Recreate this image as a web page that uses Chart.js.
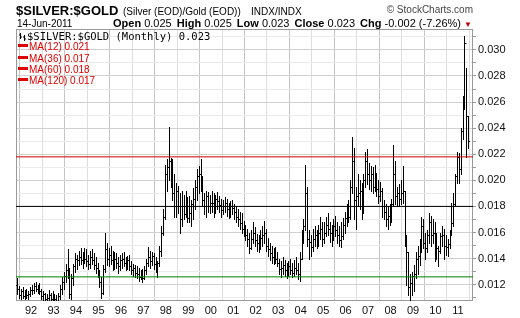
<!DOCTYPE html>
<html>
<head>
<meta charset="utf-8">
<script src="https://cdn.jsdelivr.net/npm/chart.js@4.4.1/dist/chart.umd.min.js"></script>
<style>
html, body { margin: 0; padding: 0; background: #fff; }
#wrap { position: relative; width: 520px; height: 318px; overflow: hidden; font-family: "Liberation Sans", Arial, sans-serif; color: #000; }
#wrap canvas { position: absolute; left: 0; top: 0; }
.t { position: absolute; white-space: nowrap; line-height: 1; }
.lbl { font-weight: bold; font-size: 11px; margin-left: 2px; }
.ma { font-size: 10px; color: #e00000; }
.ma i { display: inline-block; width: 10px; height: 3px; background: #e00000; vertical-align: 3px; margin-right: 1px; }
</style>
</head>
<body>
<div id="wrap">
  <canvas id="chart" width="520" height="318"></canvas>

  <div class="t" style="left:16px;top:4px;font-weight:bold;font-size:13px;">$SILVER:$GOLD</div>
  <div class="t" style="left:123px;top:7px;font-size:10px;">(Silver (EOD)/Gold (EOD))</div>
  <div class="t" style="left:251px;top:7px;font-size:10px;">INDX/INDX</div>
  <div class="t" style="right:47px;top:5px;font-size:10px;color:#444;">&copy; StockCharts.com</div>

  <div class="t" style="left:17px;top:19px;font-size:10px;">14-Jun-2011</div>
  <div class="t" style="left:111px;top:18px;font-size:11px;">
    <span class="lbl">Open</span> 0.025
    <span class="lbl">High</span> 0.025
    <span class="lbl">Low</span> 0.023
    <span class="lbl">Close</span> 0.023
    <span class="lbl">Chg</span> -0.002 (-7.26%) <span style="color:#c00000;font-size:8px;">&#9660;</span>
  </div>

  <div class="t" style="left:19px;top:31px;font-family:'DejaVu Sans Mono',monospace;font-size:10.5px;"><svg width="7" height="8" style="vertical-align:-1px;margin-right:1px"><path d="M1.5 0V6M0 2H1.5M1.5 4H3M5.5 2V8M4 4H5.5M5.5 6H7" stroke="#000" stroke-width="1" fill="none"/></svg>$SILVER:$GOLD (Monthly) 0.023</div>
  <div class="t ma" style="left:18px;top:42px;"><i></i>MA(12) 0.021</div>
  <div class="t ma" style="left:18px;top:54px;"><i></i>MA(36) 0.017</div>
  <div class="t ma" style="left:18px;top:65px;"><i></i>MA(60) 0.018</div>
  <div class="t ma" style="left:18px;top:76px;"><i></i>MA(120) 0.017</div>
</div>

<script>
// monthly bars, first bar = May 1991, last = Jun 2011
var startYear = 1991;
var startMonth = 5;

var high = [
  0.0125, 0.0119, 0.0117, 0.0118, 0.0116, 0.0117, 0.0115, 0.0118,                                 // 1991
  0.0120, 0.0121, 0.0122, 0.0120, 0.0121, 0.0117, 0.0115, 0.0114, 0.0113, 0.0116, 0.0114, 0.0115, // 1992
  0.0113, 0.0112, 0.0114, 0.0120, 0.0126, 0.0130, 0.0136, 0.0147, 0.0133, 0.0128, 0.0136, 0.0144, // 1993
  0.0143, 0.0146, 0.0148, 0.0145, 0.0148, 0.0147, 0.0143, 0.0146, 0.0147, 0.0144, 0.0141, 0.0137, // 1994
  0.0131, 0.0126, 0.0135, 0.0160, 0.0152, 0.0148, 0.0150, 0.0146, 0.0145, 0.0144, 0.0141, 0.0143, // 1995
  0.0144, 0.0145, 0.0141, 0.0142, 0.0143, 0.0138, 0.0136, 0.0135, 0.0134, 0.0133, 0.0131, 0.0132, // 1996
  0.0134, 0.0140, 0.0149, 0.0146, 0.0145, 0.0144, 0.0141, 0.0138, 0.0150, 0.0165, 0.0178, 0.0212, // 1997
  0.0216, 0.0241, 0.0217, 0.0216, 0.0205, 0.0198, 0.0196, 0.0190, 0.0192, 0.0189, 0.0192, 0.0187, // 1998
  0.0188, 0.0185, 0.0194, 0.0200, 0.0209, 0.0211, 0.0216, 0.0203, 0.0190, 0.0192, 0.0191, 0.0189, // 1999
  0.0192, 0.0190, 0.0189, 0.0191, 0.0188, 0.0186, 0.0185, 0.0187, 0.0186, 0.0183, 0.0184, 0.0185, // 2000
  0.0182, 0.0180, 0.0178, 0.0176, 0.0175, 0.0169, 0.0166, 0.0163, 0.0160, 0.0162, 0.0168, 0.0164, // 2001
  0.0159, 0.0158, 0.0162, 0.0165, 0.0169, 0.0163, 0.0156, 0.0152, 0.0150, 0.0148, 0.0149, 0.0145, // 2002
  0.0140, 0.0138, 0.0141, 0.0139, 0.0137, 0.0138, 0.0140, 0.0137, 0.0139, 0.0141, 0.0137, 0.0145, // 2003
  0.0162, 0.0170, 0.0212, 0.0195, 0.0162, 0.0158, 0.0163, 0.0165, 0.0162, 0.0166, 0.0172, 0.0168, // 2004
  0.0168, 0.0172, 0.0175, 0.0168, 0.0166, 0.0170, 0.0173, 0.0168, 0.0165, 0.0168, 0.0171, 0.0176, // 2005
  0.0182, 0.0185, 0.0200, 0.0233, 0.0225, 0.0195, 0.0205, 0.0200, 0.0198, 0.0205, 0.0222, 0.0224, // 2006
  0.0213, 0.0211, 0.0210, 0.0212, 0.0206, 0.0200, 0.0199, 0.0194, 0.0185, 0.0182, 0.0180, 0.0182, // 2007
  0.0186, 0.0227, 0.0215, 0.0195, 0.0197, 0.0200, 0.0211, 0.0192, 0.0158, 0.0145, 0.0128, 0.0130, // 2008
  0.0135, 0.0145, 0.0150, 0.0155, 0.0172, 0.0170, 0.0160, 0.0162, 0.0175, 0.0173, 0.0170, 0.0168, // 2009
  0.0160, 0.0150, 0.0160, 0.0165, 0.0163, 0.0158, 0.0155, 0.0162, 0.0183, 0.0190, 0.0205, 0.0222, // 2010
  0.0221, 0.0240, 0.0265, 0.0311, 0.0286, 0.0249                                                  // 2011
];

var low = [
  0.0113, 0.0110, 0.0109, 0.0110, 0.0109, 0.0110, 0.0109, 0.0111,
  0.0113, 0.0114, 0.0115, 0.0114, 0.0113, 0.0109, 0.0108, 0.0107, 0.0106, 0.0108, 0.0107, 0.0106,
  0.0106, 0.0104, 0.0105, 0.0109, 0.0113, 0.0117, 0.0122, 0.0125, 0.0110, 0.0109, 0.0120, 0.0130,
  0.0132, 0.0135, 0.0136, 0.0133, 0.0137, 0.0134, 0.0132, 0.0133, 0.0136, 0.0132, 0.0129, 0.0126,
  0.0118, 0.0110, 0.0113, 0.0130, 0.0135, 0.0134, 0.0136, 0.0131, 0.0132, 0.0133, 0.0129, 0.0131,
  0.0133, 0.0134, 0.0131, 0.0132, 0.0131, 0.0128, 0.0127, 0.0126, 0.0125, 0.0123, 0.0124, 0.0122,
  0.0124, 0.0128, 0.0134, 0.0133, 0.0135, 0.0132, 0.0130, 0.0126, 0.0134, 0.0142, 0.0158, 0.0170,
  0.0192, 0.0200, 0.0195, 0.0185, 0.0172, 0.0172, 0.0175, 0.0160, 0.0165, 0.0170, 0.0172, 0.0168,
  0.0168, 0.0165, 0.0170, 0.0178, 0.0185, 0.0190, 0.0192, 0.0180, 0.0174, 0.0172, 0.0176, 0.0175,
  0.0176, 0.0172, 0.0175, 0.0178, 0.0176, 0.0172, 0.0174, 0.0176, 0.0173, 0.0171, 0.0172, 0.0174,
  0.0170, 0.0168, 0.0165, 0.0163, 0.0160, 0.0157, 0.0154, 0.0150, 0.0144, 0.0147, 0.0152, 0.0150,
  0.0146, 0.0145, 0.0147, 0.0150, 0.0152, 0.0146, 0.0142, 0.0139, 0.0137, 0.0136, 0.0137, 0.0134,
  0.0128, 0.0126, 0.0128, 0.0127, 0.0125, 0.0127, 0.0128, 0.0126, 0.0127, 0.0128, 0.0124, 0.0123,
  0.0140, 0.0152, 0.0162, 0.0150, 0.0140, 0.0142, 0.0146, 0.0150, 0.0148, 0.0150, 0.0155, 0.0150,
  0.0152, 0.0157, 0.0158, 0.0153, 0.0150, 0.0154, 0.0157, 0.0152, 0.0150, 0.0149, 0.0155, 0.0160,
  0.0165, 0.0168, 0.0170, 0.0190, 0.0170, 0.0163, 0.0180, 0.0178, 0.0170, 0.0175, 0.0195, 0.0197,
  0.0193, 0.0192, 0.0190, 0.0192, 0.0188, 0.0183, 0.0184, 0.0172, 0.0170, 0.0165, 0.0163, 0.0166,
  0.0168, 0.0180, 0.0182, 0.0180, 0.0180, 0.0182, 0.0183, 0.0150, 0.0120, 0.0112, 0.0106, 0.0112,
  0.0115, 0.0125, 0.0128, 0.0135, 0.0145, 0.0148, 0.0140, 0.0145, 0.0152, 0.0150, 0.0152, 0.0138,
  0.0140, 0.0134, 0.0144, 0.0150, 0.0140, 0.0143, 0.0142, 0.0148, 0.0158, 0.0165, 0.0180, 0.0198,
  0.0198, 0.0205, 0.0232, 0.0255, 0.0218, 0.0225
];

var open = [
  0.0120, 0.0117, 0.0112, 0.0115, 0.0111, 0.0114, 0.0112, 0.0113,
  0.0116, 0.0116, 0.0119, 0.0117, 0.0118, 0.0115, 0.0111, 0.0113, 0.0109, 0.0110, 0.0112, 0.0109,
  0.0111, 0.0109, 0.0107, 0.0111, 0.0117, 0.0122, 0.0127, 0.0131, 0.0128, 0.0113, 0.0125, 0.0134,
  0.0140, 0.0139, 0.0141, 0.0139, 0.0142, 0.0140, 0.0138, 0.0136, 0.0141, 0.0139, 0.0135, 0.0133,
  0.0129, 0.0122, 0.0114, 0.0132, 0.0147, 0.0140, 0.0143, 0.0139, 0.0135, 0.0140, 0.0137, 0.0134,
  0.0139, 0.0140, 0.0137, 0.0136, 0.0139, 0.0134, 0.0131, 0.0133, 0.0129, 0.0128, 0.0126, 0.0129,
  0.0125, 0.0131, 0.0137, 0.0141, 0.0138, 0.0142, 0.0136, 0.0134, 0.0137, 0.0146, 0.0160, 0.0172,
  0.0205, 0.0210, 0.0215, 0.0205, 0.0190, 0.0180, 0.0192, 0.0180, 0.0170, 0.0180, 0.0174, 0.0185,
  0.0171, 0.0175, 0.0182, 0.0186, 0.0195, 0.0203, 0.0205, 0.0198, 0.0185, 0.0180, 0.0188, 0.0180,
  0.0183, 0.0183, 0.0178, 0.0186, 0.0184, 0.0181, 0.0177, 0.0180, 0.0183, 0.0178, 0.0176, 0.0180,
  0.0179, 0.0176, 0.0172, 0.0170, 0.0167, 0.0163, 0.0161, 0.0158, 0.0155, 0.0148, 0.0155, 0.0160,
  0.0154, 0.0152, 0.0150, 0.0156, 0.0158, 0.0160, 0.0150, 0.0147, 0.0144, 0.0141, 0.0143, 0.0140,
  0.0137, 0.0132, 0.0133, 0.0135, 0.0131, 0.0130, 0.0134, 0.0131, 0.0129, 0.0133, 0.0131, 0.0128,
  0.0140, 0.0158, 0.0165, 0.0190, 0.0155, 0.0153, 0.0149, 0.0155, 0.0158, 0.0152, 0.0160, 0.0163,
  0.0155, 0.0160, 0.0166, 0.0163, 0.0160, 0.0156, 0.0165, 0.0162, 0.0158, 0.0154, 0.0157, 0.0166,
  0.0171, 0.0178, 0.0172, 0.0195, 0.0215, 0.0185, 0.0188, 0.0190, 0.0192, 0.0180, 0.0200, 0.0215,
  0.0205, 0.0200, 0.0205, 0.0195, 0.0198, 0.0193, 0.0188, 0.0192, 0.0180, 0.0176, 0.0170, 0.0173,
  0.0179, 0.0182, 0.0205, 0.0188, 0.0190, 0.0186, 0.0190, 0.0192, 0.0158, 0.0145, 0.0118, 0.0121,
  0.0127, 0.0128, 0.0140, 0.0142, 0.0150, 0.0165, 0.0152, 0.0148, 0.0158, 0.0168, 0.0158, 0.0160,
  0.0150, 0.0148, 0.0146, 0.0157, 0.0158, 0.0150, 0.0149, 0.0151, 0.0158, 0.0167, 0.0182, 0.0203,
  0.0218, 0.0209, 0.0238, 0.0262, 0.0305, 0.0249
];

var close = [
  0.0117, 0.0112, 0.0115, 0.0111, 0.0114, 0.0112, 0.0113, 0.0116,
  0.0116, 0.0119, 0.0117, 0.0118, 0.0115, 0.0111, 0.0113, 0.0109, 0.0110, 0.0112, 0.0109, 0.0111,
  0.0109, 0.0107, 0.0111, 0.0117, 0.0122, 0.0127, 0.0131, 0.0128, 0.0113, 0.0125, 0.0134, 0.0140,
  0.0139, 0.0141, 0.0139, 0.0142, 0.0140, 0.0138, 0.0136, 0.0141, 0.0139, 0.0135, 0.0133, 0.0129,
  0.0122, 0.0114, 0.0132, 0.0147, 0.0140, 0.0143, 0.0139, 0.0135, 0.0140, 0.0137, 0.0134, 0.0139,
  0.0140, 0.0137, 0.0136, 0.0139, 0.0134, 0.0131, 0.0133, 0.0129, 0.0128, 0.0126, 0.0129, 0.0125,
  0.0131, 0.0137, 0.0141, 0.0138, 0.0142, 0.0136, 0.0134, 0.0137, 0.0146, 0.0160, 0.0172, 0.0205,
  0.0210, 0.0215, 0.0205, 0.0190, 0.0180, 0.0192, 0.0180, 0.0170, 0.0180, 0.0174, 0.0185, 0.0171,
  0.0175, 0.0182, 0.0186, 0.0195, 0.0203, 0.0205, 0.0198, 0.0185, 0.0180, 0.0188, 0.0180, 0.0183,
  0.0183, 0.0178, 0.0186, 0.0184, 0.0181, 0.0177, 0.0180, 0.0183, 0.0178, 0.0176, 0.0180, 0.0179,
  0.0176, 0.0172, 0.0170, 0.0167, 0.0163, 0.0161, 0.0158, 0.0155, 0.0148, 0.0155, 0.0160, 0.0154,
  0.0152, 0.0150, 0.0156, 0.0158, 0.0160, 0.0150, 0.0147, 0.0144, 0.0141, 0.0143, 0.0140, 0.0137,
  0.0132, 0.0133, 0.0135, 0.0131, 0.0130, 0.0134, 0.0131, 0.0129, 0.0133, 0.0131, 0.0128, 0.0140,
  0.0158, 0.0165, 0.0190, 0.0155, 0.0153, 0.0149, 0.0155, 0.0158, 0.0152, 0.0160, 0.0163, 0.0155,
  0.0160, 0.0166, 0.0163, 0.0160, 0.0156, 0.0165, 0.0162, 0.0158, 0.0154, 0.0157, 0.0166, 0.0171,
  0.0178, 0.0172, 0.0195, 0.0215, 0.0185, 0.0188, 0.0190, 0.0192, 0.0180, 0.0200, 0.0215, 0.0205,
  0.0200, 0.0205, 0.0195, 0.0198, 0.0193, 0.0188, 0.0192, 0.0180, 0.0176, 0.0170, 0.0173, 0.0179,
  0.0182, 0.0205, 0.0188, 0.0190, 0.0186, 0.0190, 0.0192, 0.0158, 0.0145, 0.0118, 0.0121, 0.0127,
  0.0128, 0.0140, 0.0142, 0.0150, 0.0165, 0.0152, 0.0148, 0.0158, 0.0168, 0.0158, 0.0160, 0.0150,
  0.0148, 0.0146, 0.0157, 0.0158, 0.0150, 0.0149, 0.0151, 0.0158, 0.0167, 0.0182, 0.0203, 0.0218,
  0.0209, 0.0238, 0.0262, 0.0305, 0.0249, 0.0230
];

// horizontal user lines
var levelValues = [0.0218, 0.0180, 0.0126];
var levelColors = ['#cc0000', '#000000', '#008000'];

// x axis: year gridlines and labels
var yearTicks = [1992, 1993, 1994, 1995, 1996, 1997, 1998, 1999, 2000, 2001, 2002, 2003, 2004, 2005, 2006, 2007, 2008, 2009, 2010, 2011];
var yearLabels = ['92', '93', '94', '95', '96', '97', '98', '99', '00', '01', '02', '03', '04', '05', '06', '07', '08', '09', '10', '11'];

var xMin = 1991.33, xMax = 2011.67;
var yMin = 0.01075, yMax = 0.0316;

// month centre as fractional year
var times = high.map(function(v, i) {
    return startYear + (startMonth - 1 + i + 0.5) / 12;
});

// draw the high-low bars (laid out by the bar controller) pixel-snapped, plus open/close ticks
var ohlcBars = {
    id: 'ohlcBars',
    beforeDatasetDraw: function(chart, args) {
        if (args.index !== 0) return;
        var ctx = chart.ctx, ys = chart.scales.y, a = chart.chartArea;
        var els = args.meta.data;
        ctx.save();
        ctx.beginPath();
        ctx.rect(a.left, a.top, a.right - a.left, a.bottom - a.top);
        ctx.clip();
        ctx.strokeStyle = '#000';
        ctx.lineWidth = 1;
        ctx.beginPath();
        for (var i = 0; i < els.length; i++) {
            var el = els[i];
            var px = Math.round(el.x) + 0.5;
            var top = Math.round(Math.min(el.y, el.base));
            var bot = Math.round(Math.max(el.y, el.base));
            ctx.moveTo(px, top); ctx.lineTo(px, bot + 1);
            var yo = Math.round(ys.getPixelForValue(open[i])) + 0.5;
            var yc = Math.round(ys.getPixelForValue(close[i])) + 0.5;
            ctx.moveTo(px - 1.5, yo); ctx.lineTo(px, yo);
            ctx.moveTo(px, yc); ctx.lineTo(px + 1.5, yc);
        }
        ctx.stroke();
        ctx.restore();
        return false;
    }
};

var frame = {
    id: 'frame',
    beforeDatasetsDraw: function(chart) {
        var a = chart.chartArea, ctx = chart.ctx;
        ctx.save();
        ctx.strokeStyle = '#9a9a9a';
        ctx.lineWidth = 1;
        ctx.strokeRect(Math.round(a.left) + 0.5, Math.round(a.top) + 0.5,
            Math.round(a.right - a.left) - 1, Math.round(a.bottom - a.top) - 1);
        ctx.restore();
    }
};

var datasets = [{
    type: 'bar',
    data: times.map(function(t, i) { return { x: t, y: [low[i], high[i]] }; }),
    backgroundColor: '#000',
    borderWidth: 0,
    barThickness: 1,
    order: 2
}];
levelValues.forEach(function(v, i) {
    datasets.push({
        type: 'line',
        data: [{ x: xMin, y: v }, { x: xMax, y: v }],
        borderColor: levelColors[i],
        borderWidth: 1,
        pointRadius: 0,
        order: 1
    });
});

new Chart(document.getElementById('chart'), {
    type: 'bar',
    data: { datasets: datasets },
    plugins: [frame, ohlcBars],
    options: {
        responsive: false,
        animation: false,
        layout: { padding: { left: 16, top: 29, right: 0, bottom: 0 } },
        plugins: { legend: { display: false }, tooltip: { enabled: false } },
        scales: {
            x: {
                type: 'linear',
                min: xMin,
                max: xMax,
                offset: false,
                afterBuildTicks: function(scale) {
                    scale.ticks = yearTicks.map(function(v) { return { value: v }; });
                },
                afterFit: function(scale) { scale.height = 17; },
                grid: {
                    drawTicks: false,
                    color: function(c) {
                        return (c.tick && c.tick.value % 2 === 0) ? '#c4c4c4' : '#dedede';
                    }
                },
                border: { display: false },
                ticks: {
                    autoSkip: false,
                    maxRotation: 0,
                    padding: 3,
                    color: '#111',
                    font: { family: '"Liberation Sans", Arial', size: 11 },
                    callback: function(value, index) { return yearLabels[index]; }
                }
            },
            y: {
                position: 'right',
                min: yMin,
                max: yMax,
                afterBuildTicks: function(scale) {
                    var t = [];
                    for (var k = 11; k <= 31; k++) t.push({ value: k / 1000 });
                    scale.ticks = t;
                },
                afterFit: function(scale) { scale.width = 47; },
                grid: {
                    tickLength: 3,
                    tickColor: '#9a9a9a',
                    color: function(c) {
                        if (!c.tick) return '#e8e8e8';
                        return Math.round(c.tick.value * 1000) % 2 === 0 ? '#d0d0d0' : '#ebebeb';
                    }
                },
                border: { display: false },
                ticks: {
                    autoSkip: false,
                    padding: 2,
                    color: '#111',
                    font: { family: '"Liberation Sans", Arial', size: 11 },
                    callback: function(value) {
                        return Math.round(value * 1000) % 2 === 0 ? value.toFixed(3) : '';
                    }
                }
            }
        }
    }
});
</script>
</body>
</html>
